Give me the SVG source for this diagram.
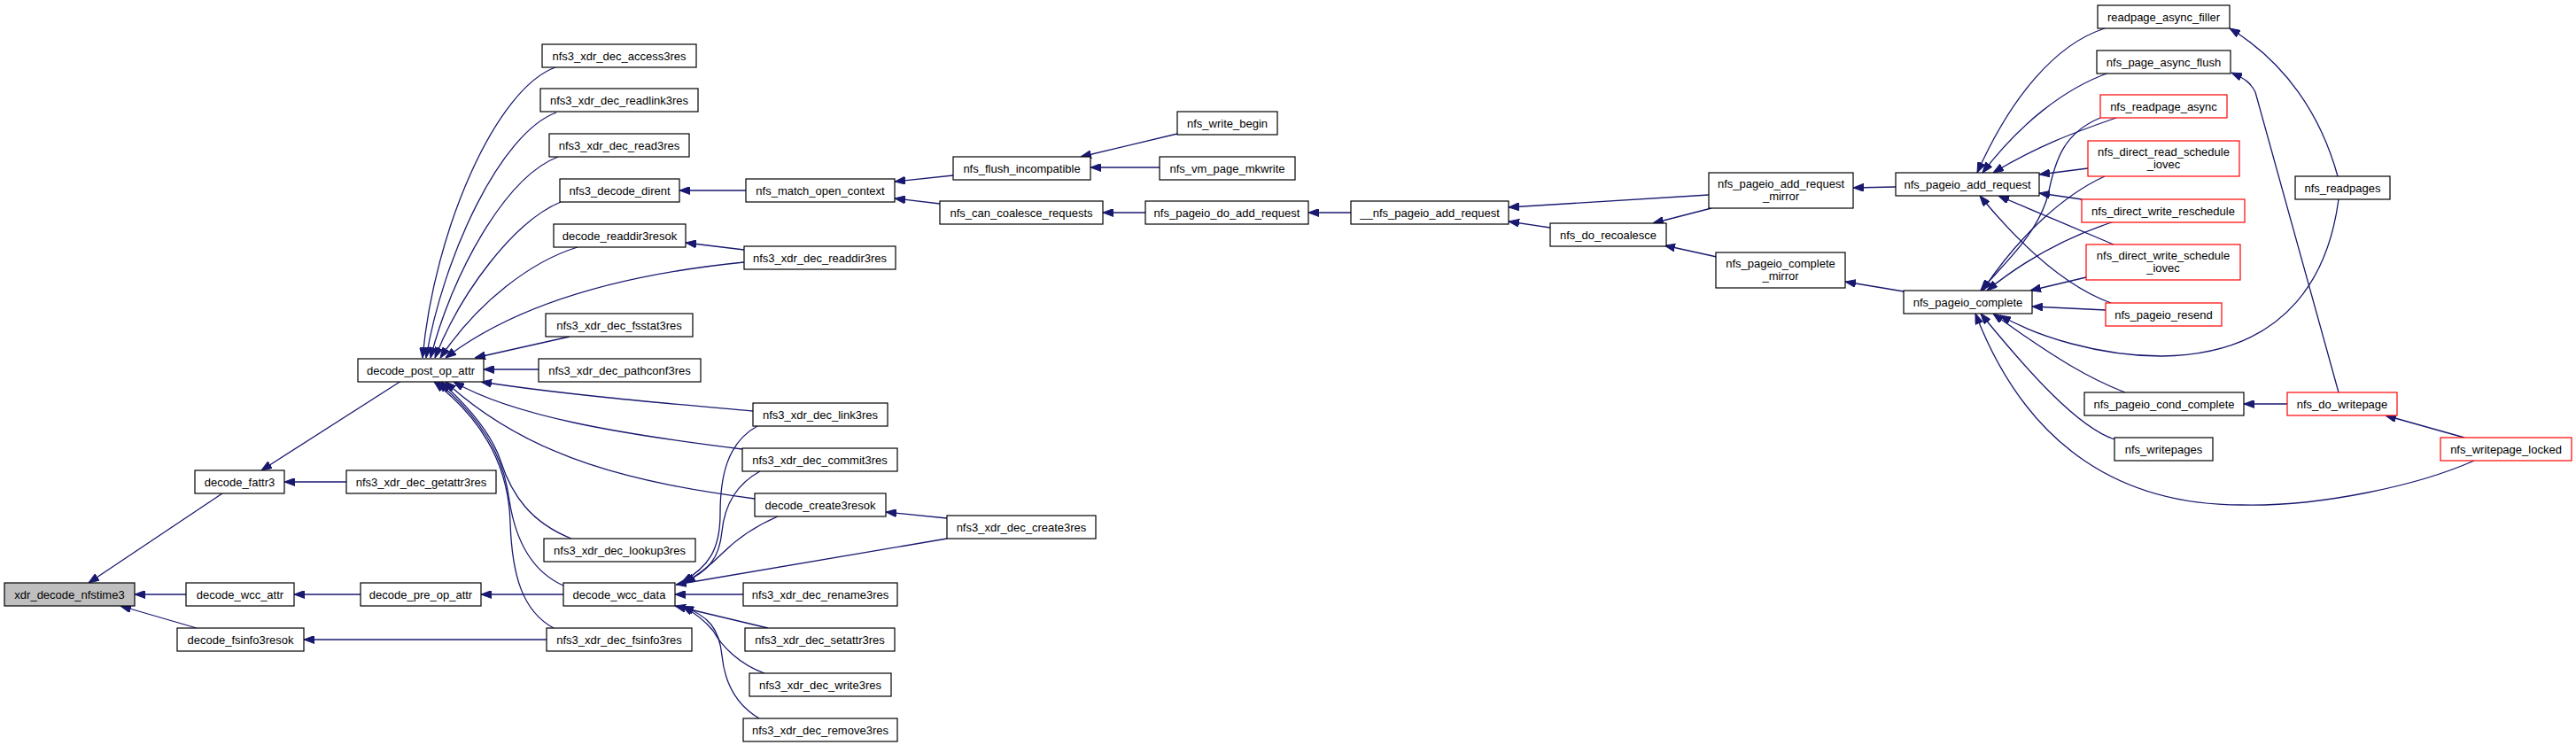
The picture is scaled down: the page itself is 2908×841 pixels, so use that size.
<svg xmlns="http://www.w3.org/2000/svg" width="2908" height="841" viewBox="0 0 2908 841">
<style>
.n rect{fill:#fff;stroke:#000;stroke-width:1.2}
.r rect{fill:#fff;stroke:#ff0000;stroke-width:1.2}
.g rect{fill:#bfbfbf;stroke:#000;stroke-width:1.2}
text{font-family:"Liberation Sans",Arial,sans-serif;font-size:13px;fill:#000;text-anchor:middle}
#edges path{fill:none;stroke:#191970;stroke-width:1.3;marker-end:url(#ah)}
</style>
<defs>
<marker id="ah" viewBox="0 0 12 9" refX="12" refY="4.5" markerWidth="12" markerHeight="9" markerUnits="userSpaceOnUse" orient="auto">
<path d="M0,0 L12,4.5 L0,9 z" fill="#191970" stroke="#191970" stroke-width="1"/>
</marker>
</defs>
<rect width="2908" height="841" fill="#fff"/>
<g id="edges">
<path d="M251,557 L100,658"/>
<path d="M210,671 L152,671"/>
<path d="M222,709 L136,684"/>
<path d="M453,430 L295,531"/>
<path d="M391,544 L321,544"/>
<path d="M407,671 L332,671"/>
<path d="M636,671 L543,671"/>
<path d="M617,722 L343,722"/>
<path d="M627,76 C560,100 490,260 477,404"/>
<path d="M628,127 C565,150 500,290 481,404"/>
<path d="M630,177 C570,200 510,310 486,404"/>
<path d="M633,228 C580,250 520,330 491,404"/>
<path d="M652,279 C600,295 540,340 497,404"/>
<path d="M840,296 C740,306 600,330 503,404"/>
<path d="M643,380 L536,404"/>
<path d="M608,417 L546,417"/>
<path d="M850,464 C760,456 640,446 543,431"/>
<path d="M838,507 C700,490 580,470 512,431"/>
<path d="M852,563 C720,545 600,520 503,431"/>
<path d="M645,608 C600,590 578,560 565,520 C555,490 530,460 498,431"/>
<path d="M636,661 C600,645 582,610 575,565 C568,510 540,470 494,431"/>
<path d="M625,709 C590,690 578,650 576,590 C574,520 540,470 490,431"/>
<path d="M842,215 L767,215"/>
<path d="M840,282 L774,274"/>
<path d="M1076,198 L1010,205"/>
<path d="M1061,230 L1010,224"/>
<path d="M1329,151 L1220,177"/>
<path d="M1309,189 L1231,189"/>
<path d="M1293,240 L1245,240"/>
<path d="M1525,240 L1477,240"/>
<path d="M1929,220 L1703,234"/>
<path d="M1750,257 L1703,250"/>
<path d="M1932,235 L1866,252"/>
<path d="M1938,290 L1879,277"/>
<path d="M2140,211 L2092,212"/>
<path d="M2149,329 L2083,318"/>
<path d="M2376,32 C2320,50 2270,110 2232,195"/>
<path d="M2381,82 C2330,100 2280,140 2238,195"/>
<path d="M2389,133 C2340,150 2300,165 2250,195"/>
<path d="M2357,190 L2302,197"/>
<path d="M2350,225 L2302,218"/>
<path d="M2386,276 L2256,221"/>
<path d="M2383,342 C2350,330 2300,300 2235,221"/>
<path d="M2371,133 C2330,150 2320,180 2312,220 C2300,265 2260,300 2236,328"/>
<path d="M2376,199 C2330,220 2280,265 2238,328"/>
<path d="M2387,250 C2340,265 2290,290 2243,328"/>
<path d="M2355,313 L2292,328"/>
<path d="M2377,350 L2294,346"/>
<path d="M2640,225 C2630,300 2590,400 2440,402 C2370,402 2300,380 2258,356"/>
<path d="M2399,443 C2360,428 2320,405 2250,354"/>
<path d="M2387,496 C2345,482 2290,420 2236,354"/>
<path d="M2793,520 C2730,548 2620,572 2530,570 C2400,570 2290,510 2230,354"/>
<path d="M2639,199 C2620,130 2580,70 2517,32"/>
<path d="M2640,443 L2546,104 C2541,94 2535,89 2519,82"/>
<path d="M2582,456 L2533,456"/>
<path d="M2782,494 L2693,469"/>
<path d="M855,481 C820,500 813,540 813,580 C813,620 800,640 770,657"/>
<path d="M858,532 C825,550 817,580 815,600 C812,630 800,645 772,657"/>
<path d="M878,583 C850,595 830,610 815,625 C800,640 790,648 773,658"/>
<path d="M1069,608 L763,660"/>
<path d="M839,671 L762,671"/>
<path d="M867,709 L762,684"/>
<path d="M863,760 C835,750 815,730 805,712 C795,700 785,692 770,684"/>
<path d="M857,811 C830,795 818,770 815,740 C812,710 800,695 771,685"/>
<path d="M1069,585 L1000,578"/>
</g>
<g id="node-xdr_decode_nfstime3" class="g"><rect x="5" y="658" width="147" height="26"/><text x="78.5" y="675.5">xdr_decode_nfstime3</text></g>
<g id="node-decode_fattr3" class="n"><rect x="220" y="531" width="101" height="26"/><text x="270.5" y="548.5">decode_fattr3</text></g>
<g id="node-nfs3_xdr_dec_getattr3res" class="n"><rect x="391" y="531" width="169" height="26"/><text x="475.5" y="548.5">nfs3_xdr_dec_getattr3res</text></g>
<g id="node-decode_wcc_attr" class="n"><rect x="210" y="658" width="122" height="26"/><text x="271" y="675.5">decode_wcc_attr</text></g>
<g id="node-decode_pre_op_attr" class="n"><rect x="407" y="658" width="136" height="26"/><text x="475" y="675.5">decode_pre_op_attr</text></g>
<g id="node-decode_fsinfo3resok" class="n"><rect x="200" y="709" width="143" height="26"/><text x="271.5" y="726.5">decode_fsinfo3resok</text></g>
<g id="node-decode_post_op_attr" class="n"><rect x="404" y="405" width="142" height="26"/><text x="475" y="422.5">decode_post_op_attr</text></g>
<g id="node-nfs3_xdr_dec_access3res" class="n"><rect x="612" y="50" width="174" height="26"/><text x="699" y="67.5">nfs3_xdr_dec_access3res</text></g>
<g id="node-nfs3_xdr_dec_readlink3res" class="n"><rect x="610" y="100" width="178" height="26"/><text x="699" y="117.5">nfs3_xdr_dec_readlink3res</text></g>
<g id="node-nfs3_xdr_dec_read3res" class="n"><rect x="620" y="151" width="158" height="26"/><text x="699" y="168.5">nfs3_xdr_dec_read3res</text></g>
<g id="node-nfs3_decode_dirent" class="n"><rect x="632" y="202" width="135" height="26"/><text x="699.5" y="219.5">nfs3_decode_dirent</text></g>
<g id="node-decode_readdir3resok" class="n"><rect x="625" y="253" width="149" height="26"/><text x="699.5" y="270.5">decode_readdir3resok</text></g>
<g id="node-nfs3_xdr_dec_fsstat3res" class="n"><rect x="616" y="354" width="166" height="26"/><text x="699" y="371.5">nfs3_xdr_dec_fsstat3res</text></g>
<g id="node-nfs3_xdr_dec_pathconf3res" class="n"><rect x="608" y="405" width="183" height="26"/><text x="699.5" y="422.5">nfs3_xdr_dec_pathconf3res</text></g>
<g id="node-nfs_match_open_context" class="n"><rect x="842" y="202" width="168" height="26"/><text x="926" y="219.5">nfs_match_open_context</text></g>
<g id="node-nfs3_xdr_dec_readdir3res" class="n"><rect x="840" y="278" width="171" height="26"/><text x="925.5" y="295.5">nfs3_xdr_dec_readdir3res</text></g>
<g id="node-nfs_flush_incompatible" class="n"><rect x="1076" y="177" width="155" height="26"/><text x="1153.5" y="194.5">nfs_flush_incompatible</text></g>
<g id="node-nfs_can_coalesce_requests" class="n"><rect x="1061" y="227" width="184" height="26"/><text x="1153" y="244.5">nfs_can_coalesce_requests</text></g>
<g id="node-nfs_write_begin" class="n"><rect x="1329" y="126" width="113" height="26"/><text x="1385.5" y="143.5">nfs_write_begin</text></g>
<g id="node-nfs_vm_page_mkwrite" class="n"><rect x="1309" y="177" width="153" height="26"/><text x="1385.5" y="194.5">nfs_vm_page_mkwrite</text></g>
<g id="node-nfs_pageio_do_add_request" class="n"><rect x="1293" y="227" width="184" height="26"/><text x="1385" y="244.5">nfs_pageio_do_add_request</text></g>
<g id="node-__nfs_pageio_add_request" class="n"><rect x="1525" y="227" width="178" height="26"/><text x="1614" y="244.5">__nfs_pageio_add_request</text></g>
<g id="node-nfs_do_recoalesce" class="n"><rect x="1750" y="252" width="131" height="26"/><text x="1815.5" y="269.5">nfs_do_recoalesce</text></g>
<g id="node-nfs_pageio_add_request_mirror" class="n"><rect x="1929" y="195" width="163" height="40"/><text x="2010.5" y="211.5">nfs_pageio_add_request</text><text x="2010.5" y="225.5">_mirror</text></g>
<g id="node-nfs_pageio_complete_mirror" class="n"><rect x="1937" y="285" width="146" height="40"/><text x="2010" y="301.5">nfs_pageio_complete</text><text x="2010" y="315.5">_mirror</text></g>
<g id="node-nfs_pageio_add_request" class="n"><rect x="2140" y="195" width="162" height="26"/><text x="2221" y="212.5">nfs_pageio_add_request</text></g>
<g id="node-nfs_pageio_complete" class="n"><rect x="2149" y="328" width="145" height="26"/><text x="2221.5" y="345.5">nfs_pageio_complete</text></g>
<g id="node-readpage_async_filler" class="n"><rect x="2368" y="6" width="149" height="26"/><text x="2442.5" y="23.5">readpage_async_filler</text></g>
<g id="node-nfs_page_async_flush" class="n"><rect x="2367" y="57" width="151" height="26"/><text x="2442.5" y="74.5">nfs_page_async_flush</text></g>
<g id="node-nfs_readpage_async" class="r"><rect x="2371" y="107" width="143" height="26"/><text x="2442.5" y="124.5">nfs_readpage_async</text></g>
<g id="node-nfs_direct_read_schedule_iovec" class="r"><rect x="2357" y="159" width="171" height="40"/><text x="2442.5" y="175.5">nfs_direct_read_schedule</text><text x="2442.5" y="189.5">_iovec</text></g>
<g id="node-nfs_direct_write_reschedule" class="r"><rect x="2350" y="225" width="184" height="26"/><text x="2442" y="242.5">nfs_direct_write_reschedule</text></g>
<g id="node-nfs_direct_write_schedule_iovec" class="r"><rect x="2355" y="276" width="174" height="40"/><text x="2442" y="292.5">nfs_direct_write_schedule</text><text x="2442" y="306.5">_iovec</text></g>
<g id="node-nfs_pageio_resend" class="r"><rect x="2377" y="342" width="131" height="26"/><text x="2442.5" y="359.5">nfs_pageio_resend</text></g>
<g id="node-nfs_readpages" class="n"><rect x="2591" y="199" width="107" height="26"/><text x="2644.5" y="216.5">nfs_readpages</text></g>
<g id="node-nfs_pageio_cond_complete" class="n"><rect x="2353" y="443" width="180" height="26"/><text x="2443" y="460.5">nfs_pageio_cond_complete</text></g>
<g id="node-nfs_do_writepage" class="r"><rect x="2582" y="443" width="124" height="26"/><text x="2644" y="460.5">nfs_do_writepage</text></g>
<g id="node-nfs_writepages" class="n"><rect x="2387" y="494" width="111" height="26"/><text x="2442.5" y="511.5">nfs_writepages</text></g>
<g id="node-nfs_writepage_locked" class="r"><rect x="2755" y="494" width="148" height="26"/><text x="2829" y="511.5">nfs_writepage_locked</text></g>
<g id="node-nfs3_xdr_dec_link3res" class="n"><rect x="850" y="455" width="152" height="26"/><text x="926" y="472.5">nfs3_xdr_dec_link3res</text></g>
<g id="node-nfs3_xdr_dec_commit3res" class="n"><rect x="838" y="506" width="175" height="26"/><text x="925.5" y="523.5">nfs3_xdr_dec_commit3res</text></g>
<g id="node-decode_create3resok" class="n"><rect x="852" y="557" width="148" height="26"/><text x="926" y="574.5">decode_create3resok</text></g>
<g id="node-nfs3_xdr_dec_create3res" class="n"><rect x="1069" y="582" width="168" height="26"/><text x="1153" y="599.5">nfs3_xdr_dec_create3res</text></g>
<g id="node-nfs3_xdr_dec_lookup3res" class="n"><rect x="614" y="608" width="171" height="26"/><text x="699.5" y="625.5">nfs3_xdr_dec_lookup3res</text></g>
<g id="node-decode_wcc_data" class="n"><rect x="636" y="658" width="126" height="26"/><text x="699" y="675.5">decode_wcc_data</text></g>
<g id="node-nfs3_xdr_dec_fsinfo3res" class="n"><rect x="617" y="709" width="164" height="26"/><text x="699" y="726.5">nfs3_xdr_dec_fsinfo3res</text></g>
<g id="node-nfs3_xdr_dec_rename3res" class="n"><rect x="839" y="658" width="174" height="26"/><text x="926" y="675.5">nfs3_xdr_dec_rename3res</text></g>
<g id="node-nfs3_xdr_dec_setattr3res" class="n"><rect x="841" y="709" width="169" height="26"/><text x="925.5" y="726.5">nfs3_xdr_dec_setattr3res</text></g>
<g id="node-nfs3_xdr_dec_write3res" class="n"><rect x="846" y="760" width="160" height="26"/><text x="926" y="777.5">nfs3_xdr_dec_write3res</text></g>
<g id="node-nfs3_xdr_dec_remove3res" class="n"><rect x="839" y="811" width="174" height="26"/><text x="926" y="828.5">nfs3_xdr_dec_remove3res</text></g>
</svg>
